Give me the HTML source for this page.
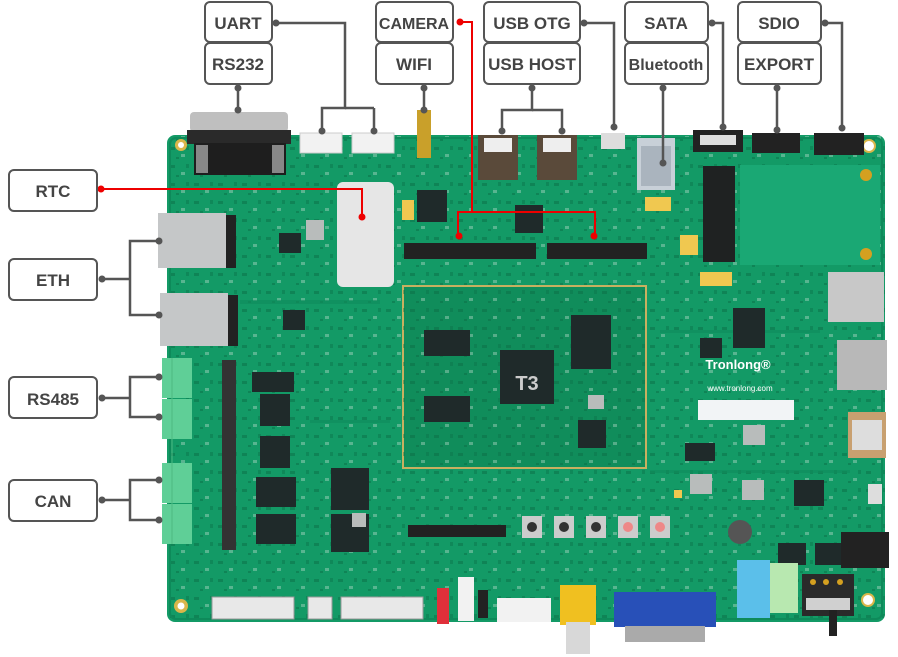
<!DOCTYPE html>
<html><head><meta charset="utf-8"><style>
html,body{margin:0;padding:0;background:#fff;}
svg{display:block}
text{font-family:"Liberation Sans",Arial,sans-serif;font-weight:bold;font-size:17px;fill:#444;text-anchor:middle}
</style></head><body>
<svg width="898" height="657" viewBox="0 0 898 657" xmlns="http://www.w3.org/2000/svg">
<defs>
<pattern id="tex" width="24" height="18" patternUnits="userSpaceOnUse">
<rect x="2" y="3" width="5" height="3" fill="#0b6e46" opacity="0.5"/>
<rect x="13" y="10" width="4" height="3" fill="#d9e8e0" opacity="0.35"/>
<rect x="8" y="13" width="3" height="2" fill="#0b6e46" opacity="0.5"/>
<rect x="18" y="2" width="3" height="4" fill="#0b6e46" opacity="0.4"/>
</pattern>
</defs>
<!-- board -->
<rect x="167" y="135" width="718" height="487" rx="8" fill="#139a66"/>
<rect x="167" y="135" width="718" height="487" rx="8" fill="url(#tex)"/>
<rect x="170" y="138" width="712" height="481" rx="6" fill="none" stroke="#0e8a5a" stroke-width="2"/>
<g fill="#0f8c5c" opacity="0.6">
<rect x="240" y="300" width="140" height="4"/><rect x="660" y="330" width="160" height="3"/>
<rect x="310" y="420" width="80" height="3"/><rect x="650" y="470" width="200" height="3"/>
</g>
<rect x="740" y="165" width="140" height="100" fill="#1aa874"/>
<!-- mounting holes -->
<circle cx="181" cy="145" r="6" fill="#d9b64a"/><circle cx="181" cy="145" r="3" fill="#fff"/>
<circle cx="869" cy="146" r="6" fill="#fff" stroke="#d9b64a" stroke-width="2"/>
<circle cx="181" cy="606" r="7" fill="#d9b64a"/><circle cx="181" cy="606" r="3.5" fill="#fff"/>
<circle cx="868" cy="600" r="6" fill="#fff" stroke="#d9b64a" stroke-width="2"/>
<circle cx="866" cy="175" r="6" fill="#d4a020"/><circle cx="866" cy="254" r="6" fill="#d4a020"/>
<!-- DB9 -->
<rect x="190" y="112" width="98" height="20" rx="4" fill="#bfbfbf"/>
<rect x="187" y="130" width="104" height="14" fill="#2a2a2a"/>
<rect x="194" y="143" width="92" height="32" fill="#1e1e1e"/>
<rect x="196" y="145" width="12" height="28" fill="#888"/><rect x="272" y="145" width="12" height="28" fill="#888"/>
<!-- UART connectors -->
<rect x="300" y="133" width="42" height="20" fill="#f2f2f2" stroke="#ccc"/>
<rect x="352" y="133" width="42" height="20" fill="#f2f2f2" stroke="#ccc"/>
<!-- antenna -->
<rect x="417" y="110" width="14" height="48" fill="#c9a02a"/>
<!-- RJ45 -->
<rect x="158" y="213" width="68" height="55" fill="#c5c7c8"/><rect x="226" y="215" width="10" height="53" fill="#222"/>
<rect x="160" y="293" width="68" height="53" fill="#c5c7c8"/><rect x="228" y="295" width="10" height="51" fill="#222"/>
<!-- terminal blocks -->
<rect x="162" y="358" width="30" height="40" fill="#5fcf97"/><rect x="162" y="399" width="30" height="40" fill="#5fcf97"/>
<rect x="162" y="463" width="30" height="40" fill="#5fcf97"/><rect x="162" y="504" width="30" height="40" fill="#5fcf97"/>
<line x1="172" y1="358" x2="172" y2="544" stroke="#4cb882"/>
<!-- RTC holder -->
<rect x="337" y="182" width="57" height="105" rx="6" fill="#e6e6e6"/>
<!-- ICs -->
<g fill="#1f2a2a">
<rect x="252" y="372" width="42" height="20"/><rect x="260" y="394" width="30" height="32"/><rect x="260" y="436" width="30" height="32"/>
<rect x="256" y="477" width="40" height="30"/><rect x="256" y="514" width="40" height="30"/>
<rect x="331" y="468" width="38" height="42"/><rect x="331" y="514" width="38" height="38"/>
<rect x="279" y="233" width="22" height="20"/><rect x="283" y="310" width="22" height="20"/>
<rect x="417" y="190" width="30" height="32"/><rect x="515" y="205" width="28" height="28"/>
<rect x="733" y="308" width="32" height="40"/><rect x="794" y="480" width="30" height="26"/>
<rect x="685" y="443" width="30" height="18"/><rect x="778" y="543" width="28" height="22"/>
<rect x="815" y="543" width="26" height="22"/><rect x="700" y="338" width="22" height="20"/>
</g>
<g fill="#b8bcbb">
<rect x="743" y="425" width="22" height="20"/><rect x="690" y="474" width="22" height="20"/>
<rect x="742" y="480" width="22" height="20"/><rect x="617" y="402" width="18" height="18"/>
<rect x="306" y="220" width="18" height="20"/><rect x="352" y="513" width="14" height="14"/>
</g>
<g fill="#f0c850"><rect x="674" y="490" width="8" height="8"/><rect x="765" y="568" width="12" height="10"/><rect x="402" y="200" width="12" height="20"/></g>
<g fill="#333"><rect x="222" y="360" width="14" height="190"/></g>
<!-- USB host -->
<rect x="478" y="135" width="40" height="45" fill="#5a4a3a"/><rect x="537" y="135" width="40" height="45" fill="#5a4a3a"/>
<rect x="484" y="138" width="28" height="14" fill="#eee"/><rect x="543" y="138" width="28" height="14" fill="#eee"/>
<rect x="601" y="133" width="24" height="16" fill="#ddd"/>
<!-- bluetooth -->
<rect x="637" y="138" width="38" height="52" fill="#c8d0d8"/><rect x="641" y="146" width="30" height="40" fill="#aab4be"/>
<rect x="645" y="197" width="26" height="14" fill="#f0c850"/><rect x="680" y="235" width="18" height="20" fill="#f0c850"/>
<rect x="700" y="272" width="32" height="14" fill="#f0c850"/>
<!-- SATA -->
<rect x="693" y="130" width="50" height="22" fill="#222"/><rect x="700" y="135" width="36" height="10" fill="#ddd"/>
<!-- headers -->
<rect x="752" y="133" width="48" height="20" fill="#222"/><rect x="814" y="133" width="50" height="22" fill="#222"/>
<rect x="404" y="243" width="132" height="16" fill="#222"/><rect x="547" y="243" width="100" height="16" fill="#222"/>
<rect x="408" y="525" width="98" height="12" fill="#222"/>
<!-- M.2 -->
<rect x="703" y="166" width="32" height="96" fill="#1f2222"/>
<!-- SoM -->
<rect x="403" y="286" width="243" height="182" fill="#108d5b" stroke="#c8b060" stroke-width="2"/>
<rect x="403" y="286" width="243" height="182" fill="url(#tex)"/>
<g fill="#1f2a2a">
<rect x="424" y="330" width="46" height="26"/><rect x="424" y="396" width="46" height="26"/>
<rect x="500" y="350" width="54" height="54"/><rect x="571" y="315" width="40" height="54"/>
<rect x="578" y="420" width="28" height="28"/>
</g>
<rect x="588" y="395" width="16" height="14" fill="#b8bcbb"/>
<text x="527" y="390" style="fill:#ccc;font-size:20px">T3</text>
<!-- right side -->
<rect x="828" y="272" width="56" height="50" fill="#c8c8c8"/>
<rect x="837" y="340" width="50" height="50" fill="#b8b8b8"/>
<rect x="848" y="412" width="38" height="46" fill="#c8a070"/><rect x="852" y="420" width="30" height="30" fill="#ddd"/>
<rect x="868" y="484" width="14" height="20" fill="#ddd"/>
<rect x="698" y="400" width="96" height="20" fill="#f2f4f6"/>
<text x="738" y="369" style="fill:#fff;font-size:13px">Tronlong®</text>
<text x="740" y="391" style="fill:#fff;font-size:8px;font-weight:normal">www.tronlong.com</text>
<rect x="841" y="532" width="48" height="36" fill="#222"/>
<rect x="737" y="560" width="33" height="58" fill="#5bbfea"/><rect x="770" y="563" width="28" height="50" fill="#b8e8b0"/>
<rect x="802" y="574" width="52" height="42" fill="#2a2a2a"/><rect x="806" y="598" width="44" height="12" fill="#d0d0d0"/>
<circle cx="813" cy="582" r="3" fill="#d4a020"/><circle cx="826" cy="582" r="3" fill="#d4a020"/><circle cx="840" cy="582" r="3" fill="#d4a020"/>
<rect x="829" y="610" width="8" height="26" fill="#222"/>
<circle cx="740" cy="532" r="12" fill="#555"/>
<!-- buttons -->
<rect x="522" y="516" width="20" height="22" fill="#ccc"/><rect x="554" y="516" width="20" height="22" fill="#ccc"/>
<rect x="586" y="516" width="20" height="22" fill="#ccc"/><rect x="618" y="516" width="20" height="22" fill="#ccc"/>
<rect x="650" y="516" width="20" height="22" fill="#ccc"/>
<circle cx="532" cy="527" r="5" fill="#333"/><circle cx="564" cy="527" r="5" fill="#333"/><circle cx="596" cy="527" r="5" fill="#333"/>
<circle cx="628" cy="527" r="5" fill="#e88"/><circle cx="660" cy="527" r="5" fill="#e88"/>
<!-- bottom connectors -->
<rect x="212" y="597" width="82" height="22" fill="#e8e8e8" stroke="#999"/>
<rect x="308" y="597" width="24" height="22" fill="#e8e8e8" stroke="#999"/>
<rect x="341" y="597" width="82" height="22" fill="#e8e8e8" stroke="#999"/>
<rect x="437" y="588" width="12" height="36" fill="#e0303a"/>
<rect x="458" y="577" width="16" height="44" fill="#f2f2f2"/>
<rect x="478" y="590" width="10" height="28" fill="#222"/>
<rect x="497" y="598" width="54" height="24" fill="#f2f2f2"/>
<rect x="560" y="585" width="36" height="40" fill="#f0c020"/><rect x="566" y="622" width="24" height="32" fill="#d8d8d8"/>
<rect x="614" y="592" width="102" height="35" fill="#2850b8"/><rect x="625" y="626" width="80" height="16" fill="#aaa"/>
<!-- lines -->
<g stroke="#555" stroke-width="2.5" fill="none">
<polyline points="276,23 345,23 345,108 322,108 322,130"/><line x1="345" y1="108" x2="374" y2="108"/><line x1="374" y1="108" x2="374" y2="130"/>
<line x1="238" y1="88" x2="238" y2="110"/>
<line x1="424" y1="88" x2="424" y2="110"/>
<polyline points="584,23 614,23 614,127"/>
<polyline points="532,88 532,110 502,110 502,130"/><polyline points="532,110 562,110 562,130"/>
<polyline points="712,23 723,23 723,127"/>
<line x1="663" y1="88" x2="663" y2="163"/>
<polyline points="825,23 842,23 842,128"/>
<line x1="777" y1="88" x2="777" y2="130"/>
<polyline points="102,279 130,279"/><polyline points="159,241 130,241 130,315 159,315"/>
<polyline points="102,398 130,398"/><polyline points="159,377 130,377 130,417 159,417"/>
<polyline points="102,500 130,500"/><polyline points="159,480 130,480 130,520 159,520"/>
</g>
<g fill="#555">
<circle cx="276" cy="23" r="3.5"/><circle cx="322" cy="131" r="3.5"/><circle cx="374" cy="131" r="3.5"/>
<circle cx="238" cy="88" r="3.5"/><circle cx="238" cy="110" r="3.5"/>
<circle cx="424" cy="88" r="3.5"/><circle cx="424" cy="110" r="3.5"/>
<circle cx="584" cy="23" r="3.5"/><circle cx="614" cy="127" r="3.5"/>
<circle cx="532" cy="88" r="3.5"/><circle cx="502" cy="131" r="3.5"/><circle cx="562" cy="131" r="3.5"/>
<circle cx="712" cy="23" r="3.5"/><circle cx="723" cy="127" r="3.5"/>
<circle cx="663" cy="88" r="3.5"/><circle cx="663" cy="163" r="3.5"/>
<circle cx="825" cy="23" r="3.5"/><circle cx="842" cy="128" r="3.5"/>
<circle cx="777" cy="88" r="3.5"/><circle cx="777" cy="130" r="3.5"/>
<circle cx="102" cy="279" r="3.5"/><circle cx="159" cy="241" r="3.5"/><circle cx="159" cy="315" r="3.5"/>
<circle cx="102" cy="398" r="3.5"/><circle cx="159" cy="377" r="3.5"/><circle cx="159" cy="417" r="3.5"/>
<circle cx="102" cy="500" r="3.5"/><circle cx="159" cy="480" r="3.5"/><circle cx="159" cy="520" r="3.5"/>
</g>
<g stroke="#e00" stroke-width="2" fill="none">
<polyline points="101,189 362,189 362,217"/>
<polyline points="460,22 472,22 472,212"/><polyline points="458,236 458,212 595,212 595,236"/>
</g>
<g fill="#e00">
<circle cx="101" cy="189" r="3.5"/><circle cx="362" cy="217" r="3.5"/>
<circle cx="460" cy="22" r="3.5"/><circle cx="459" cy="236" r="3.5"/><circle cx="594" cy="236" r="3.5"/>
</g>
<!-- label boxes -->
<g fill="#fff" stroke="#555" stroke-width="2">
<rect x="205" y="2" width="67" height="40" rx="5"/><rect x="205" y="43" width="67" height="41" rx="5"/>
<rect x="376" y="2" width="77" height="40" rx="5"/><rect x="376" y="43" width="77" height="41" rx="5"/>
<rect x="484" y="2" width="96" height="40" rx="5"/><rect x="484" y="43" width="96" height="41" rx="5"/>
<rect x="625" y="2" width="83" height="40" rx="5"/><rect x="625" y="43" width="83" height="41" rx="5"/>
<rect x="738" y="2" width="83" height="40" rx="5"/><rect x="738" y="43" width="83" height="41" rx="5"/>
<rect x="9" y="170" width="88" height="41" rx="5"/>
<rect x="9" y="259" width="88" height="41" rx="5"/>
<rect x="9" y="377" width="88" height="41" rx="5"/>
<rect x="9" y="480" width="88" height="41" rx="5"/>
</g>
<text x="238" y="29">UART</text><text x="238" y="70">RS232</text>
<text x="414" y="29" style="font-size:16px">CAMERA</text><text x="414" y="70">WIFI</text>
<text x="532" y="29">USB OTG</text><text x="532" y="70">USB HOST</text>
<text x="666" y="29">SATA</text><text x="666" y="70" style="font-size:16px">Bluetooth</text>
<text x="779" y="29">SDIO</text><text x="779" y="70">EXPORT</text>
<text x="53" y="197">RTC</text><text x="53" y="286">ETH</text>
<text x="53" y="405">RS485</text><text x="53" y="507">CAN</text>
</svg>
</body></html>
